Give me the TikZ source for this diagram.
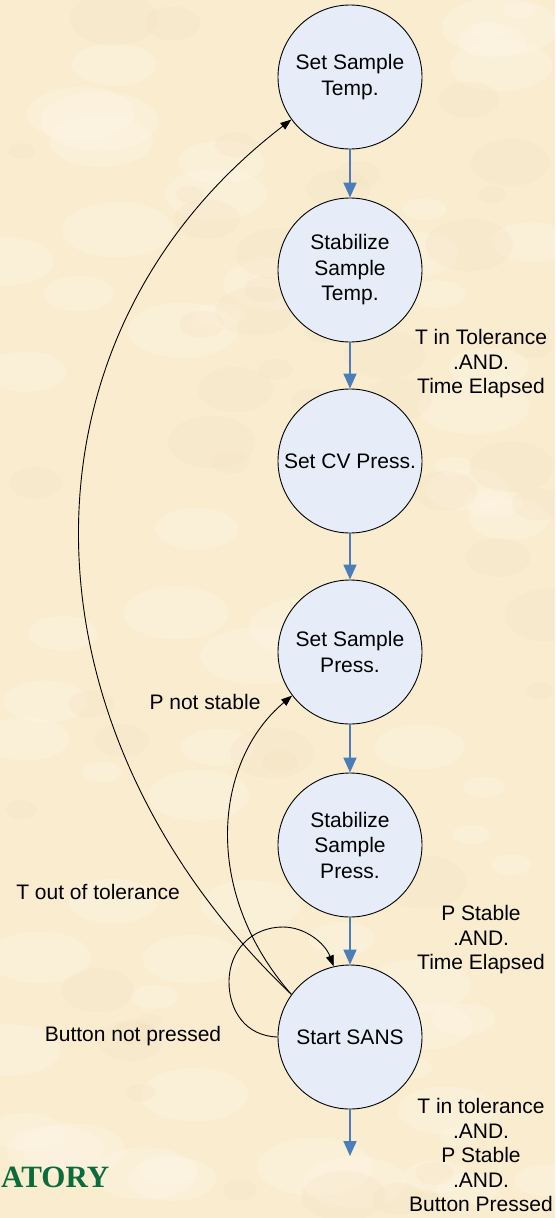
\documentclass[tikz,border=0pt]{standalone}
\usepackage{fontspec}
\setmainfont{Liberation Sans}
\newfontfamily\logofont{Liberation Serif}
\usetikzlibrary{arrows.meta}
\definecolor{parch}{HTML}{F9ECCF}
\definecolor{parchlight}{HTML}{FDF6E6}
\definecolor{parchdark}{HTML}{F1DFBB}
\definecolor{stfill}{HTML}{E6EDF8}
\definecolor{flowblue}{HTML}{4A7EBB}
\definecolor{logogreen}{HTML}{0B6B3A}
\begin{document}
\begin{tikzpicture}[x=1pt,y=-1pt,
  state/.style={circle, draw=black, line width=0.9pt, fill=stfill, minimum size=144pt,
    inner sep=0pt, align=center, font=\fontsize{21}{25.5}\selectfont},
  flow/.style={draw=flowblue, line width=1.7pt, -{Triangle[width=13pt,length=15pt]}},
  trans/.style={draw=black, line width=0.9pt, -{Triangle[width=8pt,length=11pt]}},
  lbl/.style={align=center, inner sep=0pt, font=\fontsize{21}{24.5}\selectfont}]
\useasboundingbox (0,0) rectangle (555,1218);
% background
\begin{scope}
\clip (0,0) rectangle (555,1218);
\fill[parch] (0,0) rectangle (555,1218);
\pgfmathsetseed{12}
\foreach \i in {1,...,70} {
  \pgfmathsetmacro\xx{rnd*555}
  \pgfmathsetmacro\yy{rnd*1218}
  \pgfmathsetmacro\rr{15+rnd*45}
  \fill[parchlight, opacity=0.35] (\xx,\yy) ellipse ({\rr pt} and {0.5*\rr pt});
}
\foreach \i in {1,...,50} {
  \pgfmathsetmacro\xx{rnd*555}
  \pgfmathsetmacro\yy{rnd*1218}
  \pgfmathsetmacro\rr{10+rnd*35}
  \fill[parchdark, opacity=0.2] (\xx,\yy) ellipse ({\rr pt} and {0.6*\rr pt});
}
\end{scope}

% states
\node[state] (s1) at (350,77) {Set Sample\\Temp.};
\node[state] (s2) at (350,270) {Stabilize\\Sample\\Temp.};
\node[state] (s3) at (350,461) {Set CV Press.};
\node[state] (s4) at (350,652) {Set Sample\\Press.};
\node[state] (s5) at (350,845) {Stabilize\\Sample\\Press.};
\node[state] (s6) at (350,1037) {Start SANS};
\coordinate (out) at (350,1156);

% flow arrows
\draw[flow] (s1.south) -- (s2.north);
\draw[flow] (s2.south) -- (s3.north);
\draw[flow] (s3.south) -- (s4.north);
\draw[flow] (s4.south) -- (s5.north);
\draw[flow] (s5.south) -- (s6.north);
\draw[flow] (s6.south) -- (out);

% transitions
\draw[trans] (s6.144) .. controls (14,730) and (4,340) .. (s1.216);
\draw[trans] (s6.144) .. controls (200,890) and (215,760) .. (s4.217);
\draw[trans] (s6.180) .. controls (245,1036) and (229,1010) .. (229,982)
   .. controls (229,950) and (252,927) .. (283,927)
   .. controls (305,927) and (325,943) .. (s6.103);

% labels
\node[lbl] (l1) at (481,364) {T in Tolerance\\.AND.\\Time Elapsed};
\node[lbl] (l2) at (205,702) {P not stable};
\node[lbl] (l3) at (98,892) {T out of tolerance};
\node[lbl] (l4) at (481,940) {P Stable\\.AND.\\Time Elapsed};
\node[lbl] (l5) at (133,1036) {Button not pressed};
\node[lbl] (l6) at (481,1155) {T in tolerance\\.AND.\\P Stable\\.AND.\\Button Pressed};
\node[anchor=base west, inner sep=0pt, text=logogreen,
  font=\logofont\bfseries\fontsize{31}{31}\selectfont] (logo) at (1,1187) {ATORY};
\end{tikzpicture}
\end{document}
